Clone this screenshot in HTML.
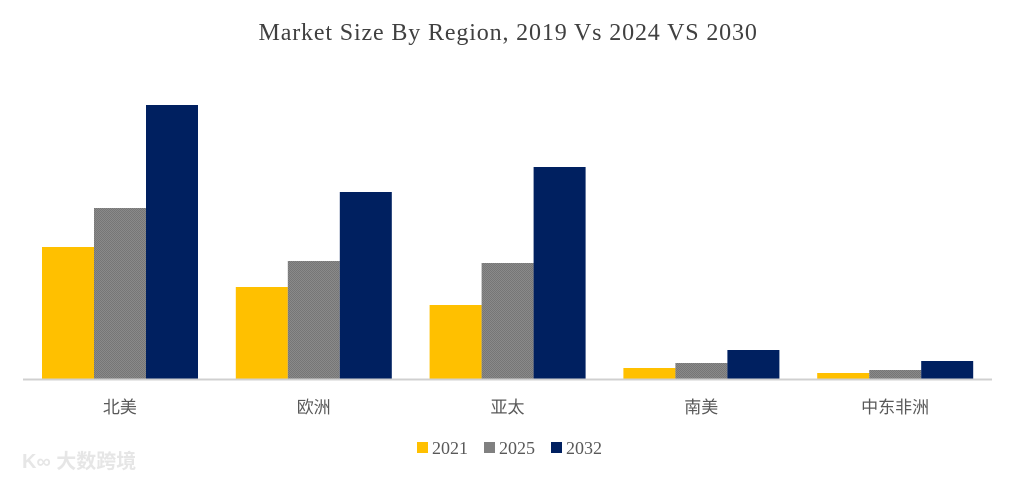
<!DOCTYPE html>
<html><head><meta charset="utf-8"><style>
body{margin:0;background:#fff;}
svg{display:block;}
</style></head><body>
<svg id="chart" width="1015" height="479">
<defs>
<pattern id="grayPat" width="2" height="2" patternUnits="userSpaceOnUse">
<rect width="2" height="2" fill="#8a8a8a"/><rect width="1" height="1" fill="#767676"/><rect x="1" y="1" width="1" height="1" fill="#767676"/>
</pattern>
</defs>
<text x="508" y="40" text-anchor="middle" font-family="'Liberation Serif',serif" font-size="24" letter-spacing="0.6" fill="#404040" textLength="499" lengthAdjust="spacing">Market Size By Region, 2019 Vs 2024 VS 2030</text>
<g id="bars"></g>
<line x1="23" y1="379.5" x2="992" y2="379.5" stroke="#d0d0d0" stroke-width="2"/>
<g id="labels"></g>
<g id="legend"></g>
<text x="22" y="468" font-family="'Liberation Sans','Noto Sans CJK SC',sans-serif" font-size="20" font-weight="bold" fill="#e6e6e6">K∞ 大数跨境</text>
</svg>
<script>
const categories = ['北美','欧洲','亚太','南美','中东非洲'];
const series2021 = [132, 92, 74, 11, 6];
const series2025 = [171, 118, 116, 16, 9];
const series2032 = [274, 187, 212, 29, 18];
const seriesNames = ['2021','2025','2032'];
const colors = ['#ffc000','url(#grayPat)','#002060'];
const legendColors = ['#ffc000','#808080','#002060'];
const NS='http://www.w3.org/2000/svg';
const x0=23, x1=992, base=379, yMax=300, plotH=300;
const bandW=(x1-x0)/categories.length;
function yScale(v){return base - v/yMax*plotH;}
const allSeries=[series2021,series2025,series2032];
const barW=52, inner=19;
const gb=document.getElementById('bars'), gl=document.getElementById('labels'), gle=document.getElementById('legend');
categories.forEach((c,i)=>{
  allSeries.forEach((s,j)=>{
    const r=document.createElementNS(NS,'rect');
    const x=x0+i*bandW+inner+j*barW;
    r.setAttribute('x',x);r.setAttribute('width',barW);
    r.setAttribute('y',yScale(s[i]));r.setAttribute('height',base-yScale(s[i]));
    r.setAttribute('fill',colors[j]);
    
    
    gb.appendChild(r);
  });
  const t=document.createElementNS(NS,'text');
  t.setAttribute('x',x0+(i+0.5)*bandW);t.setAttribute('y',413);
  t.setAttribute('text-anchor','middle');t.setAttribute('font-size','17');t.setAttribute('fill','#595959');
  t.setAttribute('font-family',"'Liberation Sans','Noto Sans CJK SC',sans-serif");
  t.textContent=c;
  
  
  gl.appendChild(t);
});
const legX=[417,484,551];
seriesNames.forEach((n,j)=>{
  const g=document.createElementNS(NS,'g');
  
  
  const r=document.createElementNS(NS,'rect');
  r.setAttribute('x',legX[j]);r.setAttribute('y',442);r.setAttribute('width',11);r.setAttribute('height',11);
  r.setAttribute('fill',legendColors[j]);
  g.appendChild(r);
  const t=document.createElementNS(NS,'text');
  t.setAttribute('x',legX[j]+15);t.setAttribute('y',454);t.setAttribute('font-size','18');t.setAttribute('fill','#595959');
  t.setAttribute('font-family',"'Liberation Serif',serif");
  t.textContent=n;
  g.appendChild(t);
  gle.appendChild(g);
});
</script>
</body></html>
